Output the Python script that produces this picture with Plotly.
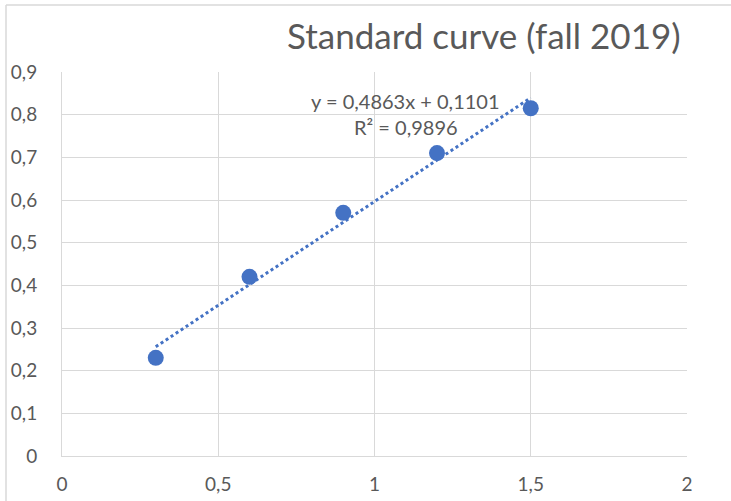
import plotly.graph_objects as go

concentration = [0.3, 0.6, 0.9, 1.2, 1.5]
absorbance = [0.23, 0.42, 0.57, 0.71, 0.815]
slope = 0.4863
intercept = 0.1101
r_squared = 0.9896
title_text = "Standard curve (fall 2019)"

W, H = 731, 501
L, R, T, B = 62, 44, 72, 45
pw, ph = W - L - R, H - T - B

trend_x = [min(concentration), max(concentration)]
trend_y = [slope * x + intercept for x in trend_x]

blue = "#4472C4"
grey_text = "#595959"
grid = "#d9d9d9"
font_family = "Lato, 'Open Sans', sans-serif"

fig = go.Figure()
fig.add_trace(go.Scatter(x=trend_x, y=trend_y, mode="lines",
                         line=dict(color=blue, width=3, dash="dot"),
                         hoverinfo="skip", showlegend=False))
fig.add_trace(go.Scatter(x=concentration, y=absorbance, mode="markers",
                         marker=dict(color=blue, size=16),
                         showlegend=False))

def fmt(v):
    return f"{v:.4f}".replace(".", ",")

fig.add_annotation(x=1.1, y=0.833, xref="x", yref="y",
                   text=f"y = {fmt(slope)}x + {fmt(intercept)}",
                   showarrow=False, font=dict(size=20, color=grey_text, family=font_family))
fig.add_annotation(x=1.1, y=0.77, xref="x", yref="y",
                   text=f"R² = {fmt(r_squared)}",
                   showarrow=False, font=dict(size=20, color=grey_text, family=font_family))

fig.add_annotation(x=(683 - L) / pw, y=(H - B - 35) / ph, xref="paper", yref="paper",
                   xanchor="right", yanchor="middle", text=title_text, showarrow=False,
                   font=dict(size=35, color=grey_text, family=font_family))

# outer chart frame (partially visible)
fig.add_shape(type="line", xref="paper", yref="paper",
              x0=(6 - L) / pw, x1=(6 - L) / pw, y0=(H - B - H) / ph - 0.1, y1=(H - B - 5) / ph,
              line=dict(color=grid, width=1.5))
fig.add_shape(type="line", xref="paper", yref="paper",
              x0=(6 - L) / pw, x1=(W - L) / pw + 0.1, y0=(H - B - 5) / ph, y1=(H - B - 5) / ph,
              line=dict(color=grid, width=1.5))

fig.update_layout(
    width=W, height=H,
    margin=dict(l=L, r=R, t=T, b=B, autoexpand=False),
    paper_bgcolor="white", plot_bgcolor="white",
    separators=", ",
    font=dict(family=font_family, color=grey_text, size=19),
    xaxis=dict(range=[0, 2], dtick=0.5, tick0=0, showgrid=True, gridcolor=grid, gridwidth=1,
               zeroline=False, showline=True, linecolor=grid, linewidth=1, automargin=False,
               ticks="outside", ticklen=11, tickcolor="rgba(0,0,0,0)", fixedrange=True),
    yaxis=dict(range=[0, 0.9], dtick=0.1, tick0=0, showgrid=True, gridcolor=grid, gridwidth=1,
               zeroline=False, showline=True, linecolor=grid, linewidth=1, automargin=False,
               ticks="outside", ticklen=20, tickcolor="rgba(0,0,0,0)", fixedrange=True),
)

fig.write_html("out.html")
